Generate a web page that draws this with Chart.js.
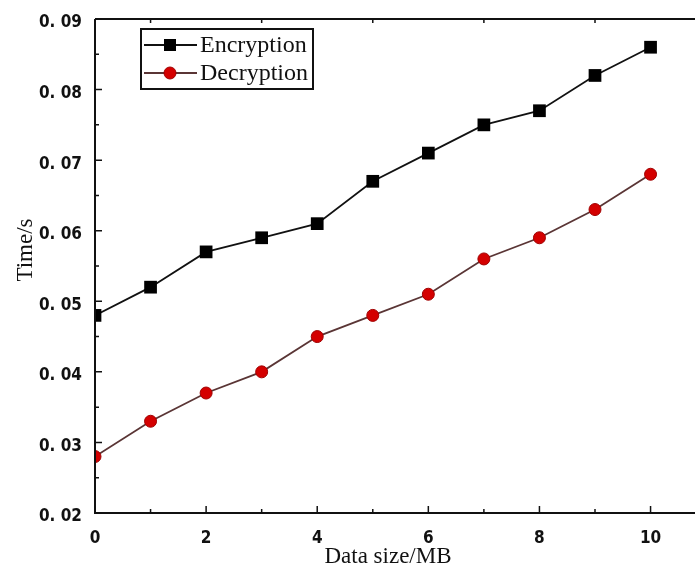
<!DOCTYPE html>
<html>
<head>
<meta charset="utf-8">
<script src="https://cdn.jsdelivr.net/npm/chart.js@4"></script>
<style>
  html, body { margin: 0; padding: 0; background: #fff; overflow: hidden; }
  #wrap { width: 695px; height: 570px; }
</style>
</head>
<body>
<div id="wrap"><canvas id="grafico_tempo"></canvas></div>
<script>
const tamanhos = [0, 1, 2, 3, 4, 5, 6, 7, 8, 9, 10];
const encryption = [0.048, 0.052, 0.057, 0.059, 0.061, 0.067, 0.071, 0.075, 0.077, 0.082, 0.086];
const decryption = [0.028, 0.033, 0.037, 0.040, 0.045, 0.048, 0.051, 0.056, 0.059, 0.063, 0.068];
const yTicks = [0.02, 0.03, 0.04, 0.05, 0.06, 0.07, 0.08, 0.09];
const xTicks = [0, 2, 4, 6, 8, 10];

const fonteTick = { family: "'Liberation Sans Narrow', 'DejaVu Sans Condensed', 'Liberation Sans', sans-serif", size: 17, weight: 'bold' };
const fonteSerif = "'Liberation Serif', 'DejaVu Serif', serif";

const semPadding = s => { s.paddingLeft = 0; s.paddingRight = 0; s.paddingTop = 0; s.paddingBottom = 0; };

// frame, inward ticks, axis titles and boxed legend
const moldura = {
  id: 'moldura',
  afterDraw(chart) {
    const { ctx, chartArea: a, scales: { x, y } } = chart;
    ctx.save();
    ctx.strokeStyle = '#111';
    ctx.lineWidth = 2;
    ctx.beginPath();
    ctx.moveTo(a.left, a.top);
    ctx.lineTo(a.left, a.bottom);
    ctx.lineTo(a.right, a.bottom);
    ctx.moveTo(a.left, a.top);
    ctx.lineTo(a.right, a.top);
    ctx.stroke();

    ctx.lineWidth = 1.5;
    ctx.beginPath();
    for (let v = 0; v <= 10; v++) {
      const px = x.getPixelForValue(v);
      const len = v % 2 === 0 ? 7 : 4;
      ctx.moveTo(px, a.bottom);
      ctx.lineTo(px, a.bottom - len);
      if (v % 2 === 1) {
        ctx.moveTo(px, a.top);
        ctx.lineTo(px, a.top + 4);
      }
    }
    for (let k = 0; k <= 14; k++) {
      const v = 0.02 + k * 0.005;
      const py = y.getPixelForValue(v);
      const len = k % 2 === 0 ? 7 : 4;
      ctx.moveTo(a.left, py);
      ctx.lineTo(a.left + len, py);
    }
    ctx.stroke();

    // axis titles
    ctx.fillStyle = '#111';
    ctx.font = '23px ' + fonteSerif;
    ctx.textAlign = 'center';
    ctx.textBaseline = 'middle';
    ctx.fillText('Data size/MB', 388, 557);
    ctx.save();
    ctx.translate(26, 250);
    ctx.rotate(-Math.PI / 2);
    ctx.fillText('Time/s', 0, 0);
    ctx.restore();

    // legend
    const bx = 141, by = 29, bw = 172, bh = 60;
    ctx.lineWidth = 2;
    ctx.strokeStyle = '#111';
    ctx.strokeRect(bx, by, bw, bh);
    ctx.font = '24px ' + fonteSerif;
    ctx.textAlign = 'left';
    chart.data.datasets.forEach((ds, i) => {
      const ly = by + 16 + i * 28;
      ctx.strokeStyle = ds.borderColor;
      ctx.lineWidth = ds.borderWidth;
      ctx.beginPath();
      ctx.moveTo(bx + 3, ly);
      ctx.lineTo(bx + 56, ly);
      ctx.stroke();
      ctx.fillStyle = ds.pointBackgroundColor;
      ctx.strokeStyle = ds.pointBorderColor;
      ctx.lineWidth = 1;
      if (ds.pointStyle === 'rect') {
        ctx.fillRect(bx + 23, ly - 6, 12, 12);
      } else {
        ctx.beginPath();
        ctx.arc(bx + 29, ly, 6, 0, Math.PI * 2);
        ctx.fill();
        ctx.stroke();
      }
      ctx.fillStyle = '#111';
      ctx.fillText(ds.label, bx + 59, ly + 1);
    });
    ctx.restore();
  }
};

new Chart(document.getElementById('grafico_tempo'), {
  type: 'line',
  data: {
    labels: tamanhos,
    datasets: [{
      label: 'Encryption',
      data: tamanhos.map((t, i) => ({ x: t, y: encryption[i] })),
      borderColor: '#111',
      borderWidth: 1.8,
      pointStyle: 'rect',
      pointRadius: 9,
      pointBackgroundColor: '#000',
      pointBorderColor: '#000',
      pointBorderWidth: 0
    }, {
      label: 'Decryption',
      data: tamanhos.map((t, i) => ({ x: t, y: decryption[i] })),
      borderColor: '#5a3535',
      borderWidth: 1.8,
      pointStyle: 'circle',
      pointRadius: 6,
      pointBackgroundColor: '#d40000',
      pointBorderColor: '#a00000',
      pointBorderWidth: 1
    }]
  },
  options: {
    responsive: true,
    maintainAspectRatio: false,
    animation: false,
    layout: { autoPadding: false, padding: { top: 19, right: 0, left: 0, bottom: 0 } },
    scales: {
      x: {
        type: 'linear',
        min: 0,
        max: 10.8,
        afterFit: s => { s.height = 57; semPadding(s); },
        afterBuildTicks: s => { s.ticks = xTicks.map(v => ({ value: v })); },
        grid: { display: false, drawTicks: false, tickLength: 0 },
        border: { display: false },
        ticks: {
          padding: 15,
          color: '#111',
          font: fonteTick,
          callback: v => String(v)
        }
      },
      y: {
        min: 0.02,
        max: 0.09,
        afterFit: s => { s.width = 95; semPadding(s); },
        afterBuildTicks: s => { s.ticks = yTicks.map(v => ({ value: v })); },
        grid: { display: false, drawTicks: false, tickLength: 0 },
        border: { display: false },
        ticks: {
          padding: 13,
          labelOffset: 4,
          color: '#111',
          font: fonteTick,
          callback: v => v.toFixed(2).replace('.', '. ')
        }
      }
    },
    plugins: {
      legend: { display: false },
      tooltip: { enabled: false }
    }
  },
  plugins: [moldura]
});
</script>
</body>
</html>
